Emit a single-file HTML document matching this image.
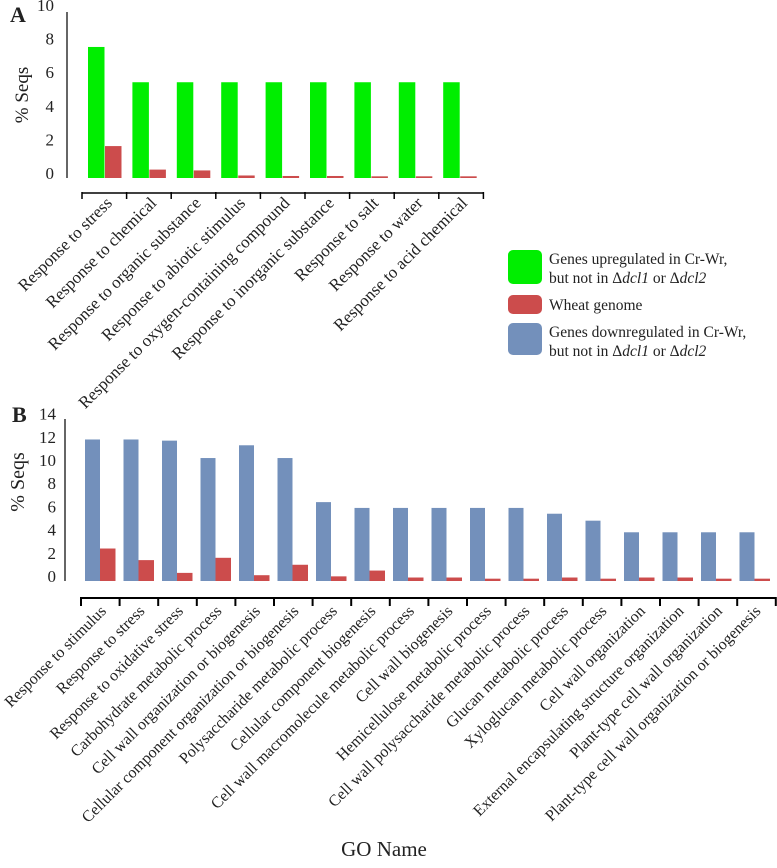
<!DOCTYPE html>
<html><head><meta charset="utf-8"><style>
body{margin:0;background:#fff}
svg,svg text{font-family:"Liberation Serif","Times New Roman",serif;fill:#222}
</style></head><body>
<svg id="c" width="777" height="863" font-family="Liberation Serif, serif" xmlns="http://www.w3.org/2000/svg">
<text x="10" y="22" font-size="22" font-weight="bold">A</text>
<text x="12" y="422" font-size="22" font-weight="bold">B</text>
<text transform="translate(28,95) rotate(-90)" text-anchor="middle" font-size="19">% Seqs</text>
<text transform="translate(24,482) rotate(-90)" text-anchor="middle" font-size="20">% Seqs</text>
<text x="384" y="856" text-anchor="middle" font-size="21">GO Name</text>
<g>
<rect x="508" y="250" width="34" height="34" rx="5" fill="#00ee00"/>
<text x="549" y="264" font-size="15.5"><tspan x="549">Genes upregulated in Cr-Wr,</tspan><tspan x="549" dy="19">but not in Δ<tspan font-style="italic">dcl1</tspan> or Δ<tspan font-style="italic">dcl2</tspan></tspan></text>
<rect x="508" y="295" width="34" height="19" rx="5" fill="#cc4c4c"/>
<text x="549" y="310" font-size="15.5">Wheat genome</text>
<rect x="508" y="323" width="34" height="32" rx="5" fill="#7390bb"/>
<text x="549" y="337" font-size="15.5"><tspan x="549">Genes downregulated in Cr-Wr,</tspan><tspan x="549" dy="19">but not in Δ<tspan font-style="italic">dcl1</tspan> or Δ<tspan font-style="italic">dcl2</tspan></tspan></text>
</g>
</svg>
<script>
const catsA=["Response to stress","Response to chemical","Response to organic substance","Response to abiotic stimulus","Response to oxygen-containing compound","Response to inorganic substance","Response to salt","Response to water","Response to acid chemical"];
const upA=[7.8,5.7,5.7,5.7,5.7,5.7,5.7,5.7,5.7];
const wheatA=[1.9,0.5,0.45,0.15,0.12,0.12,0.1,0.1,0.1];
const ticksA=[0,2,4,6,8,10];
const catsB=["Response to stimulus","Response to stress","Response to oxidative stress","Carbohydrate metabolic process","Cell wall organization or biogenesis","Cellular component organization or biogenesis","Polysaccharide metabolic process","Cellular component biogenesis","Cell wall macromolecule metabolic process","Cell wall biogenesis","Hemicellulose metabolic process","Cell wall polysaccharide metabolic process","Glucan metabolic process","Xyloglucan metabolic process","Cell wall organization","External encapsulating structure organization","Plant-type cell wall organization","Plant-type cell wall organization or biogenesis"];
const downB=[12.2,12.2,12.1,10.6,11.7,10.6,6.8,6.3,6.3,6.3,6.3,6.3,5.8,5.2,4.2,4.2,4.2,4.2];
const wheatB=[2.8,1.8,0.7,2.0,0.5,1.4,0.4,0.9,0.3,0.3,0.2,0.2,0.3,0.2,0.3,0.3,0.2,0.2];
const ticksB=[0,2,4,6,8,10,12,14];

const svg=document.getElementById('c');
const NS="http://www.w3.org/2000/svg";
function mk(t,a){const e=document.createElementNS(NS,t);for(const k in a)e.setAttribute(k,a[k]);svg.appendChild(e);return e;}

// Panel A
const yA=v=>178-v*16.8;
const xA=i=>88+i*44.4;
mk('line',{x1:67,y1:12,x2:67,y2:178,stroke:'#000','stroke-width':1.2});
mk('line',{x1:82,y1:193,x2:483,y2:193,stroke:'#000','stroke-width':1.5});
for(let i=0;i<=catsA.length;i++){const x=82+i*44.6;mk('line',{x1:x,y1:192,x2:x,y2:199,stroke:'#000','stroke-width':1.5});}
ticksA.forEach(t=>{const e=mk('text',{x:54,y:yA(t)+1,'text-anchor':'end','font-size':17});e.textContent=t;

});
catsA.forEach((c,i)=>{
 let b=mk('rect',{x:xA(i),y:yA(upA[i]),width:16.5,height:178-yA(upA[i]),fill:'#00ee00'});
 
 
 let r=mk('rect',{x:xA(i)+17,y:yA(wheatA[i]),width:16.5,height:178-yA(wheatA[i]),fill:'#cc4c4c'});
 
 
 const cx=xA(i)+25;
 let t=mk('text',{x:cx,y:204,'text-anchor':'end','font-size':17,transform:`rotate(-45 ${cx} 204)`});t.textContent=c;
 
 
});

// Panel B
const yB=v=>581-v*11.6;
const xB=i=>85+i*38.5;
mk('line',{x1:65,y1:419,x2:65,y2:581,stroke:'#000','stroke-width':1.2});
ticksB.forEach(t=>{const e=mk('text',{x:56,y:yB(t)+1,'text-anchor':'end','font-size':17});e.textContent=t;

});
mk('line',{x1:81,y1:598,x2:776,y2:598,stroke:'#000','stroke-width':2});
for(let i=0;i<=catsB.length;i++){const x=81+i*38.6;mk('line',{x1:x,y1:597,x2:x,y2:606,stroke:'#000','stroke-width':2});}
catsB.forEach((c,i)=>{
 let b=mk('rect',{x:xB(i),y:yB(downB[i]),width:15,height:581-yB(downB[i]),fill:'#7390bb'});
 
 
 let r=mk('rect',{x:xB(i)+15,y:yB(wheatB[i]),width:15.5,height:581-yB(wheatB[i]),fill:'#cc4c4c'});
 
 
 const cx=xB(i)+22;
 let t=mk('text',{x:cx,y:612,'text-anchor':'end','font-size':16,transform:`rotate(-45 ${cx} 612)`});t.textContent=c;
 
 
});
</script>
</body></html>
